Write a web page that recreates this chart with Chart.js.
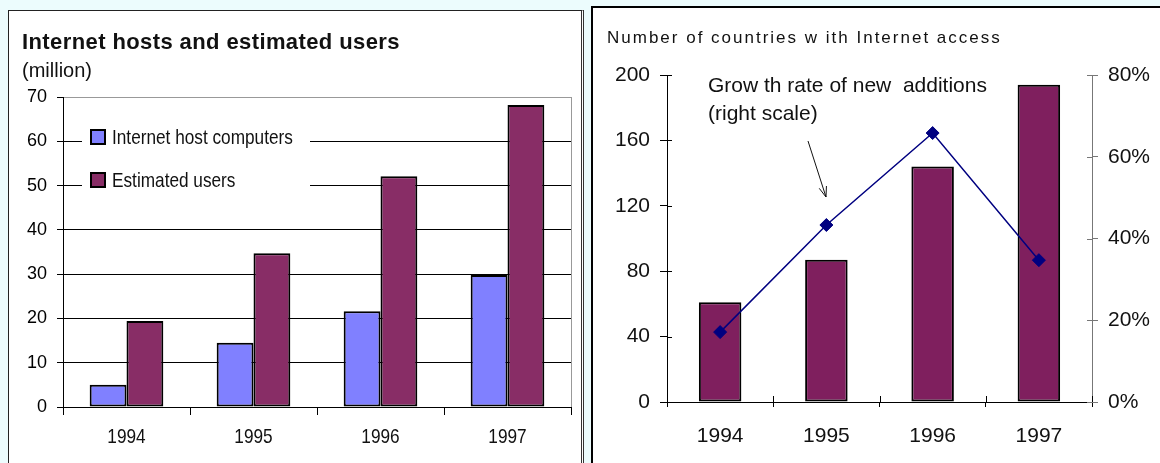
<!DOCTYPE html>
<html lang="en">
<head>
<meta charset="UTF-8">
<title>Internet hosts and countries with Internet access</title>
<script src="https://cdn.jsdelivr.net/npm/chart.js@4.4.1/dist/chart.umd.min.js"></script>
<style>
    body {
        margin: 0;
        width: 1160px;
        height: 463px;
        overflow: hidden;
        position: relative;
        background: #ecfcfd;
        font-family: Arial, "Liberation Sans", sans-serif;
    }
    .panel {
        position: absolute;
        background: #fff;
        box-sizing: border-box;
    }
    #leftPanel {
        left: 8px; top: 10px; width: 576px; height: 470px;
        border: 1px solid #222;
        border-right: 3px double #333;
    }
    #rightPanel {
        left: 591px; top: 6px; width: 600px; height: 470px;
        border: 2px solid #000;
    }
    canvas { position: absolute; }
    .txt { position: absolute; color: #111; white-space: pre; line-height: 1; }
    #leftTitle { left: 22px; top: 31px; font-size: 22px; font-weight: bold; letter-spacing: 0.4px; }
    #leftUnit { left: 22px; top: 60px; font-size: 20px; }
    #rightTitle { left: 607px; top: 29px; font-size: 17px; letter-spacing: 2px; }
</style>
</head>
<body>
<div class="panel" id="leftPanel"></div>
<div class="panel" id="rightPanel"></div>
<canvas id="leftChart" width="571" height="452" style="left:9px; top:11px;"></canvas>
<canvas id="rightChart" width="566" height="454" style="left:594px; top:9px;"></canvas>
<div class="txt" id="leftTitle">Internet hosts and estimated users</div>
<div class="txt" id="leftUnit">(million)</div>
<div class="txt" id="rightTitle">Number of countries w ith Internet access</div>

<script>
    // data
    const years = ['1994', '1995', '1996', '1997'];
    const hostLabel = 'Internet host computers';
    const userLabel = 'Estimated users';
    const hosts = [5.0, 14.5, 21.6, 29.8];
    const users = [19.4, 34.7, 52.1, 68.2];

    const countryLabel = 'Number of countries with Internet access';
    const growthLabel = 'Growth rate of new additions';
    const countries = [61, 87, 144, 194];
    const growth = [17.1, 43.3, 65.8, 34.7];
    const noteLines = ['Grow th rate of new  additions', '(right scale)'];

    const arial = 'Arial, "Liberation Sans", sans-serif';

    // no narrow face installed, so squeeze Arial horizontally
    function narrowText(ctx, s, x, y, size, align) {
        ctx.save();
        ctx.font = size + 'px ' + arial;
        ctx.textAlign = align || 'left';
        ctx.textBaseline = 'middle';
        ctx.translate(x, y);
        ctx.scale(0.82, 1);
        ctx.fillText(s, 0, 0);
        ctx.restore();
    }

    // legend drawn inside the plot, over the gridlines; narrow x labels; gray right frame
    const insideLegend = {
        id: 'insideLegend',
        beforeDatasetsDraw(chart) {
            const ctx = chart.ctx, a = chart.chartArea;
            ctx.save();
            ctx.fillStyle = '#fff';
            ctx.fillRect(a.left + 19, a.top + 27, 228, 73);
            chart.data.datasets.forEach((ds, i) => {
                const cy = a.top + 40 + i * 43;
                ctx.fillStyle = ds.backgroundColor;
                ctx.fillRect(a.left + 28, cy - 7, 14, 14);
                ctx.strokeStyle = '#000';
                ctx.lineWidth = 2;
                ctx.strokeRect(a.left + 28, cy - 7, 14, 14);
                ctx.fillStyle = '#111';
                narrowText(ctx, ds.label, a.left + 49, cy + 1, 21);
            });
            ctx.restore();
        },
        afterDraw(chart) {
            const ctx = chart.ctx, a = chart.chartArea, sx = chart.scales.x;
            ctx.save();
            ctx.strokeStyle = '#999';
            ctx.lineWidth = 1;
            ctx.beginPath();
            ctx.moveTo(Math.round(a.right) + 0.5, a.top);
            ctx.lineTo(Math.round(a.right) + 0.5, a.bottom);
            ctx.stroke();
            ctx.fillStyle = '#111';
            chart.data.labels.forEach((lab, i) => {
                narrowText(ctx, lab, sx.getPixelForValue(i), a.bottom + 30, 21, 'center');
            });
            ctx.restore();
        }
    };

    new Chart(document.getElementById('leftChart'), {
        type: 'bar',
        data: {
            labels: years,
            datasets: [
                { label: hostLabel, data: hosts, backgroundColor: '#8080ff', borderColor: '#000', borderWidth: 2, borderSkipped: false },
                { label: userLabel, data: users, backgroundColor: '#882d66', borderColor: '#000', borderWidth: 2, borderSkipped: false }
            ]
        },
        options: {
            responsive: false,
            animation: false,
            categoryPercentage: 0.58,
            barPercentage: 1.0,
            layout: { padding: { left: 0, top: 86, right: 9, bottom: 0 } },
            plugins: { legend: { display: false }, tooltip: { enabled: false } },
            scales: {
                x: {
                    grid: { drawOnChartArea: false, tickLength: 8, color: '#000', offset: true },
                    border: { color: '#000' },
                    ticks: { display: false },
                    afterFit: s => { s.height = 56; }
                },
                y: {
                    min: 0, max: 70,
                    ticks: { stepSize: 10, color: '#000', font: { family: arial, size: 18 }, padding: 10 },
                    grid: { color: c => (c.tick && c.tick.value === 70) ? '#999' : '#000', tickColor: '#000', tickLength: 6 },
                    border: { color: '#000' },
                    afterFit: s => { s.width = 54; }
                }
            }
        },
        plugins: [insideLegend]
    });

    // note text, arrow and the short inner tick marks of the right chart
    const rightExtras = {
        id: 'rightExtras',
        afterDraw(chart) {
            const ctx = chart.ctx, a = chart.chartArea;
            const sx = chart.scales.x, sy = chart.scales.y, sy1 = chart.scales.y1;
            ctx.save();
            ctx.lineWidth = 1;
            ctx.strokeStyle = '#000';
            ctx.beginPath();
            sy.ticks.forEach(t => {
                const y = Math.round(sy.getPixelForValue(t.value)) + 0.5;
                ctx.moveTo(a.left, y); ctx.lineTo(a.left + 5, y);
            });
            const n = chart.data.labels.length;
            for (let i = 0; i <= n; i++) {
                const x = Math.round(sx.left + i * sx.width / n) + 0.5;
                ctx.moveTo(x, a.bottom); ctx.lineTo(x, a.bottom - 6);
            }
            ctx.stroke();
            ctx.strokeStyle = '#777';
            ctx.beginPath();
            sy1.ticks.forEach(t => {
                const y = Math.round(sy1.getPixelForValue(t.value)) + 0.5;
                ctx.moveTo(a.right, y); ctx.lineTo(a.right - 5, y);
            });
            ctx.stroke();

            ctx.fillStyle = '#111';
            ctx.font = '21px ' + arial;
            ctx.textBaseline = 'middle';
            noteLines.forEach((s, i) => ctx.fillText(s, a.left + 41, a.top + 11 + i * 28));

            // arrow
            const x0 = a.left + 141, y0 = a.top + 66, x1 = a.left + 159, y1 = a.top + 122;
            const ang = Math.atan2(y1 - y0, x1 - x0);
            ctx.strokeStyle = '#111';
            ctx.beginPath();
            ctx.moveTo(x0, y0); ctx.lineTo(x1, y1);
            ctx.moveTo(x1 - 11 * Math.cos(ang - 0.35), y1 - 11 * Math.sin(ang - 0.35));
            ctx.lineTo(x1, y1);
            ctx.lineTo(x1 - 11 * Math.cos(ang + 0.35), y1 - 11 * Math.sin(ang + 0.35));
            ctx.stroke();
            ctx.restore();
        }
    };

    new Chart(document.getElementById('rightChart'), {
        type: 'bar',
        data: {
            labels: years,
            datasets: [
                {
                    type: 'line', label: growthLabel, data: growth, yAxisID: 'y1', order: 0,
                    borderColor: '#000080', backgroundColor: '#000080', borderWidth: 1.5,
                    pointStyle: 'rectRot', pointRadius: 6.5, pointBorderWidth: 1
                },
                {
                    type: 'bar', label: countryLabel, data: countries, yAxisID: 'y', order: 1,
                    backgroundColor: '#7f1f5e', borderColor: '#000', borderWidth: 2, borderSkipped: false,
                    categoryPercentage: 0.4, barPercentage: 1.0
                }
            ]
        },
        options: {
            responsive: false,
            animation: false,
            layout: { padding: { left: 0, top: 66, right: 0, bottom: 0 } },
            plugins: { legend: { display: false }, tooltip: { enabled: false } },
            scales: {
                x: {
                    grid: { drawOnChartArea: false, tickLength: 5, color: '#000', offset: true },
                    border: { color: '#000' },
                    ticks: { color: '#111', font: { family: arial, size: 21 }, padding: 17 },
                    afterFit: s => { s.height = 61; }
                },
                y: {
                    min: 0, max: 200,
                    ticks: { stepSize: 40, color: '#111', font: { family: arial, size: 21 }, padding: 10 },
                    grid: { drawOnChartArea: false, tickLength: 7, color: '#000' },
                    border: { color: '#000' },
                    afterFit: s => { s.width = 73; }
                },
                y1: {
                    position: 'right',
                    min: 0, max: 80,
                    ticks: { stepSize: 20, color: '#111', font: { family: arial, size: 21 }, padding: 10, callback: v => v + '%' },
                    grid: { drawOnChartArea: false, tickLength: 6, color: '#777' },
                    border: { color: '#777' },
                    afterFit: s => { s.width = 68; }
                }
            }
        },
        plugins: [rightExtras]
    });
</script>
</body>
</html>
